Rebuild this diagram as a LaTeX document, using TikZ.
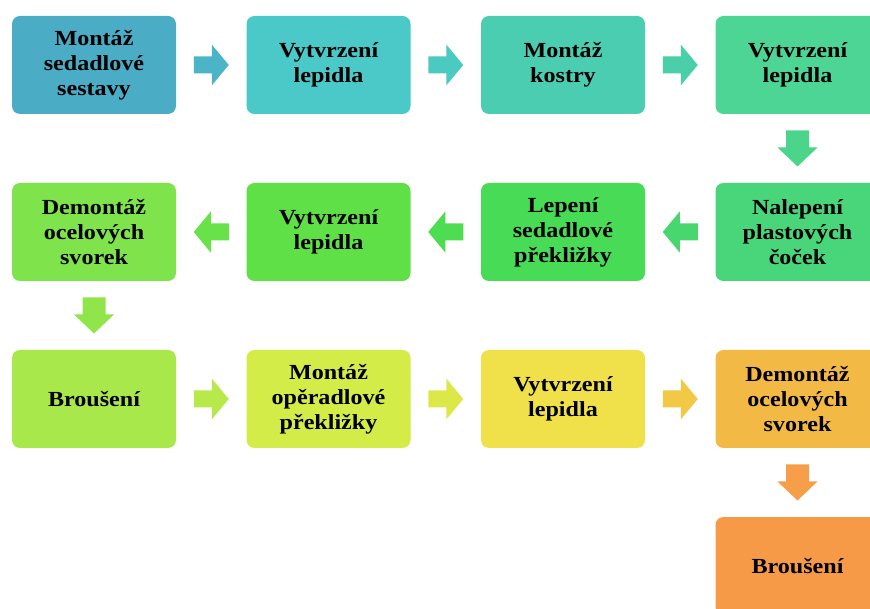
\documentclass[tikz,border=0pt]{standalone}
\usepackage{fontspec}
\setmainfont{Liberation Serif}[FakeStretch=1.12]
\usetikzlibrary{calc}
\definecolor{c1}{HTML}{4BACC6}
\definecolor{c2}{HTML}{4BC9C8}
\definecolor{c3}{HTML}{4ACDB0}
\definecolor{c4}{HTML}{4CD594}
\definecolor{c5}{HTML}{49D67A}
\definecolor{c6}{HTML}{47DB56}
\definecolor{c7}{HTML}{5FE047}
\definecolor{c8}{HTML}{7FE34C}
\definecolor{c9}{HTML}{A9E84A}
\definecolor{c10}{HTML}{D3EC47}
\definecolor{c11}{HTML}{F0E04A}
\definecolor{c12}{HTML}{F2BA45}
\definecolor{c13}{HTML}{F79A48}
\tikzset{
  x=1pt, y=1pt,
  stepbox/.style={rounded corners=8pt, minimum width=164pt, minimum height=98pt,
    inner sep=0pt, align=center, font=\bfseries\fontsize{21.5}{25}\selectfont, text=black},
  harrow/.pic={\fill (-17.5,-8.5) -- (0.5,-8.5) -- (0.5,-20.5) -- (17.5,0) -- (0.5,20.5) -- (0.5,8.5) -- (-17.5,8.5) -- cycle;},
  varrow/.pic={\fill (-11.5,18) -- (11.5,18) -- (11.5,1) -- (20,1) -- (0,-18) -- (-20,1) -- (-11.5,1) -- cycle;}
}
\begin{document}
\begin{tikzpicture}
\useasboundingbox (0,0) rectangle (870,608);
\clip (0,0) rectangle (870,608);
% row 1
\node[stepbox, fill=c1] (b1) at (94,543) {Montáž\\sedadlové\\sestavy};
\node[stepbox, fill=c2] (b2) at (328.5,543) {Vytvrzení\\lepidla};
\node[stepbox, fill=c3] (b3) at (563,543) {Montáž\\kostry};
\node[stepbox, fill=c4] (b4) at (797.5,543) {Vytvrzení\\lepidla};
% row 2
\node[stepbox, fill=c5] (b5) at (797.5,376) {Nalepení\\plastových\\čoček};
\node[stepbox, fill=c6] (b6) at (563,376) {Lepení\\sedadlové\\překližky};
\node[stepbox, fill=c7] (b7) at (328.5,376) {Vytvrzení\\lepidla};
\node[stepbox, fill=c8] (b8) at (94,376) {Demontáž\\ocelových\\svorek};
% row 3
\node[stepbox, fill=c9] (b9) at (94,209) {Broušení};
\node[stepbox, fill=c10] (b10) at (328.5,209) {Montáž\\opěradlové\\překližky};
\node[stepbox, fill=c11] (b11) at (563,209) {Vytvrzení\\lepidla};
\node[stepbox, fill=c12] (b12) at (797.5,209) {Demontáž\\ocelových\\svorek};
% row 4
\node[stepbox, fill=c13] (b13) at (797.5,42) {Broušení};
% arrows
\pic[fill=c1!70!c2] at ($(b1)!0.5!(b2)$) {harrow};
\pic[fill=c2!70!c3] at ($(b2)!0.5!(b3)$) {harrow};
\pic[fill=c3!70!c4] at ($(b3)!0.5!(b4)$) {harrow};
\pic[fill=c4!60!c5] at ($(b4)!0.5!(b5)$) {varrow};
\pic[fill=c5!70!c6, rotate=180] at ($(b5)!0.5!(b6)$) {harrow};
\pic[fill=c6!70!c7, rotate=180] at ($(b6)!0.5!(b7)$) {harrow};
\pic[fill=c7!70!c8, rotate=180] at ($(b7)!0.5!(b8)$) {harrow};
\pic[fill=c8!60!c9] at ($(b8)!0.5!(b9)$) {varrow};
\pic[fill=c9!70!c10] at ($(b9)!0.5!(b10)$) {harrow};
\pic[fill=c10!70!c11] at ($(b10)!0.5!(b11)$) {harrow};
\pic[fill=c11!40!c12] at ($(b11)!0.5!(b12)$) {harrow};
\pic[fill=c13!85!c12] at ($(b12)!0.5!(b13)$) {varrow};
\end{tikzpicture}
\end{document}
